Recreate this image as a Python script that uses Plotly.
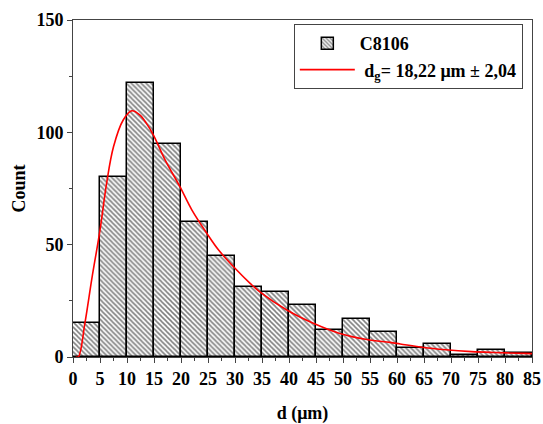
import plotly.graph_objects as go

bin_left = [0, 5, 10, 15, 20, 25, 30, 35, 40, 45, 50, 55, 60, 65, 70, 75, 80]
counts = [15, 80, 122, 95, 60, 45, 31, 29, 23, 12, 17, 11, 4, 6, 1, 3, 2]
bin_width = 5

fit_x = [0.5, 1.0, 2.2, 3.5, 5.0, 6.2, 7.5, 9.3, 10.9, 12.4, 13.6, 14.9, 17.0, 19.8, 22.0, 24.8,
         27.0, 30.0, 32.8, 34.6, 39.6, 44.5, 49.4, 54.4, 58.7, 60.6, 64.9, 69.0, 73.8, 78.0, 83.7, 85.0]
fit_y = [0.0, 0.1, 15.0, 35.0, 56.5, 77.0, 93.6, 105.5, 109.6, 107.7, 104.0, 98.8, 88.0, 75.8, 65.5, 55.0,
         47.5, 39.5, 32.8, 29.0, 20.9, 15.0, 10.5, 7.8, 6.5, 5.8, 4.2, 3.2, 2.4, 2.0, 1.6, 1.5]

x_ticks = list(range(0, 90, 5))
y_ticks = [0, 50, 100, 150]

centers = [b + bin_width / 2 for b in bin_left]

fig = go.Figure()
fig.add_trace(go.Bar(
    x=centers, y=counts, width=[bin_width] * len(counts),
    name="<b>C8106</b>",
    marker=dict(color="white", line=dict(color="black", width=1.5),
                pattern=dict(shape="\\", fgcolor="black", bgcolor="white", size=3.5, solidity=0.45)),
))
fig.add_trace(go.Scatter(
    x=fit_x, y=fit_y, mode="lines", line=dict(color="#ff0000", width=1.6, shape="spline"),
    name="<b> d<sub>g</sub>= 18,22 μm ± 2,04</b>",
))

font_fam = "Liberation Serif, Times New Roman, serif"
fig.update_layout(
    width=543, height=424,
    margin=dict(l=73, r=11, t=20, b=67),
    plot_bgcolor="white", paper_bgcolor="white",
    font=dict(family=font_fam, size=18, color="black"),
    bargap=0,
    showlegend=True,
    legend=dict(x=0.98, y=0.988, xanchor="right", yanchor="top",
                bordercolor="#444444", borderwidth=1, bgcolor="white",
                font=dict(family=font_fam, size=18, color="black"),
                tracegroupgap=0, itemwidth=55),
)
fig.update_xaxes(
    range=[0, 85], tickvals=x_ticks, ticktext=[f"<b>{t}</b>" for t in x_ticks],
    showline=True, linecolor="#444444", linewidth=1, mirror=True,
    ticks="outside", ticklen=5, tickcolor="#444444",
    minor=dict(ticks="outside", ticklen=3, dtick=2.5, tick0=0, tickcolor="#444444"),
    showgrid=False, zeroline=False, automargin=False,
    title=dict(text="<b>d (μm)</b>", font=dict(size=18), standoff=18),
    tickfont=dict(size=18),
)
fig.update_yaxes(
    range=[0, 150], tickvals=y_ticks, ticktext=[f"<b>{t}</b>" for t in y_ticks],
    showline=True, linecolor="#444444", linewidth=1, mirror=True,
    ticks="outside", ticklen=5, tickcolor="#444444",
    minor=dict(ticks="outside", ticklen=3, dtick=25, tick0=0, tickcolor="#444444"),
    showgrid=False, zeroline=False, automargin=False,
    title=dict(text="<b>Count</b>", font=dict(size=18), standoff=6),
    tickfont=dict(size=18),
)

fig.write_html("out.html")
